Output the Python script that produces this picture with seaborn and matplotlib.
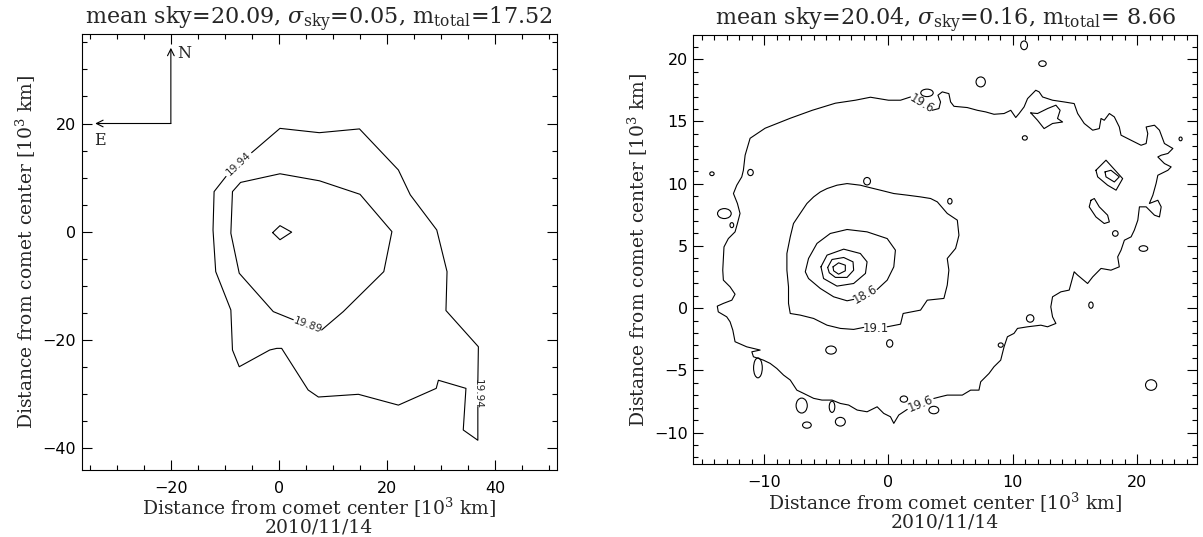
import numpy as np
import pandas as pd
import seaborn as sns
import matplotlib.pyplot as plt
from matplotlib.patches import Ellipse
from matplotlib.ticker import MultipleLocator

# --- contour paths, units of 10^3 km ---
# left panel (2010/11/14, faint): levels 19.94 and 19.89
left_1994_a = [(-5.06, 14.6), (0.19, 19.1), (7.47, 18.3), (14.9, 19.0), (22.1, 11.4), (24.3, 6.8),
               (29.2, 0.3), (31.1, -7.4), (30.9, -14.6), (36.9, -21.3), (36.8, -27.8)]
left_1994_b = [(36.8, -32.4), (36.8, -38.6), (34.1, -36.7), (34.6, -29.0), (29.5, -27.5), (29.1, -29.0),
               (22.1, -32.1), (14.7, -30.1), (7.3, -30.6), (5.4, -29.3), (0.5, -21.6), (-0.4, -21.6),
               (-1.7, -21.9), (-7.35, -25.0), (-8.6, -21.9), (-8.9, -14.5), (-11.7, -7.4), (-12.2, 0.3),
               (-12.0, 7.4), (-9.8, 10.2)]
left_1989 = [(7.9, -18.2), (11.9, -14.8), (19.4, -7.4), (20.9, 0.0), (15.0, 6.9), (7.5, 9.4), (0.19, 10.7),
             (-7.1, 9.1), (-8.6, 7.4), (-8.9, -0.3), (-7.35, -7.7), (-1.05, -14.8), (2.65, -16.3)]
left_core = [(-1.17, -0.19), (0.19, 1.1), (2.35, -0.1), (0.19, -1.5), (-1.17, -0.19)]

left_labels = ['19.94', '19.94', '19.89']
left_label_pos = [(-7.5, 12.5), (36.8, -30.1), (5.3, -17.3)]
left_label_rot = [43, -90, -20]

# right panel: levels 19.6, 19.1, 18.6 and three inner rings
right_196_a = [(3.52, 15.90), (4.06, 16.04), (4.19, 16.57), (3.98, 17.11), (4.33, 17.38), (4.86, 17.24),
               (5.00, 16.57), (5.27, 16.22), (6.34, 16.12), (7.15, 15.90), (7.82, 15.77), (8.49, 15.58),
               (9.30, 15.64), (9.84, 15.90), (10.24, 15.32), (10.51, 15.64), (10.91, 16.17), (11.19, 16.84),
               (11.85, 17.51), (12.12, 17.38), (12.40, 16.97), (13.20, 16.71), (14.14, 16.57), (14.94, 16.44),
               (15.22, 15.64), (15.75, 14.84), (16.43, 14.30), (16.96, 14.43), (17.10, 15.24), (17.36, 15.10),
               (17.77, 15.64), (18.17, 15.37), (18.57, 14.56), (18.71, 13.90), (19.52, 13.49), (20.32, 13.09),
               (20.73, 13.23), (20.86, 14.03), (20.73, 14.56), (21.40, 14.70), (21.80, 14.30), (22.20, 13.23),
               (22.88, 12.83), (22.48, 12.43), (21.94, 12.29), (21.67, 12.15), (22.20, 11.62), (22.74, 11.35),
               (22.48, 11.08), (21.67, 10.68), (21.53, 10.02), (21.27, 9.08), (20.99, 8.41), (21.67, 8.67),
               (21.94, 8.14), (21.80, 7.33), (21.40, 7.47), (20.73, 8.14), (20.19, 8.14), (20.06, 7.07),
               (19.78, 6.27), (19.52, 5.73), (18.98, 5.46), (18.71, 4.66), (18.44, 4.12), (18.57, 3.32),
               (17.90, 3.05), (17.10, 3.19), (16.43, 2.51), (16.02, 1.98), (15.22, 2.65), (14.94, 2.92),
               (14.54, 1.45), (13.87, 1.31), (13.20, 0.91), (13.06, 0.10), (13.20, -0.70), (13.47, -1.23),
               (12.80, -1.50), (12.26, -1.37), (11.19, -1.50), (10.38, -1.63), (10.10, -2.03), (9.57, -2.30),
               (9.30, -3.11), (9.03, -4.18), (8.49, -4.71), (8.09, -5.25), (7.42, -5.92), (7.28, -6.59),
               (6.61, -6.59), (5.94, -6.99), (4.73, -6.99), (4.19, -7.12), (3.65, -7.26)]
right_196_b = [(1.51, -8.14), (0.83, -8.59), (0.43, -9.26), (0.16, -8.73), (-0.38, -8.46), (-0.91, -7.93),
               (-1.72, -8.33), (-2.52, -8.19), (-3.20, -7.79), (-3.87, -7.66), (-4.54, -7.39), (-5.35, -7.39),
               (-6.02, -7.25), (-6.83, -6.85), (-7.37, -6.59), (-7.90, -5.78), (-8.44, -5.38), (-8.98, -4.85),
               (-9.52, -4.44), (-10.06, -4.18), (-10.86, -3.91), (-10.99, -3.51), (-10.32, -3.37), (-11.40, -3.11),
               (-12.34, -2.70), (-12.52, -1.77), (-12.74, -1.10), (-13.01, -0.70), (-13.69, -0.30), (-13.77, 0.16),
               (-13.28, 0.38), (-12.60, 0.64), (-12.34, 1.12), (-12.74, 1.71), (-13.28, 2.25), (-13.33, 3.05),
               (-13.28, 3.99), (-13.23, 4.92), (-12.88, 5.59), (-12.34, 6.13), (-12.15, 6.80), (-11.94, 7.61),
               (-12.15, 8.41), (-12.47, 9.21), (-12.20, 9.88), (-11.80, 10.55), (-11.67, 11.08), (-11.53, 12.29),
               (-11.13, 13.65), (-9.92, 14.46), (-7.90, 15.26), (-6.13, 15.90), (-4.27, 16.47), (-2.66, 16.71),
               (-1.45, 16.95), (0.0, 16.71), (0.97, 16.71), (1.77, 16.97)]
right_191 = [(-0.10, -1.50), (0.97, -1.29), (1.18, -0.43), (2.58, -0.16), (3.12, 0.64), (4.46, 0.78),
             (4.73, 1.85), (4.86, 3.05), (4.73, 3.99), (5.40, 4.80), (5.54, 5.33), (5.67, 5.86), (5.54, 7.07),
             (4.73, 7.61), (3.93, 8.54), (3.39, 8.81), (2.58, 8.94), (1.51, 9.08), (0.43, 9.21), (-0.65, 9.48),
             (-1.72, 9.74), (-2.26, 9.88), (-3.33, 10.01), (-4.14, 9.88), (-4.94, 9.61), (-5.48, 9.34),
             (-6.02, 8.94), (-6.56, 8.41), (-7.10, 7.61), (-7.64, 6.80), (-7.90, 5.73), (-8.17, 4.39),
             (-8.17, 3.05), (-8.04, 1.71), (-8.04, 0.38), (-7.90, -0.43), (-7.10, -0.56), (-6.02, -0.83),
             (-4.94, -1.37), (-3.87, -1.63), (-2.80, -1.71), (-1.99, -1.55)]
right_186 = [(-0.91, 1.50), (-0.10, 2.25), (0.43, 3.32), (0.56, 4.66), (-0.10, 5.59), (-1.72, 6.13),
             (-3.33, 6.32), (-4.68, 6.00), (-5.75, 5.20), (-6.43, 3.99), (-6.69, 2.92), (-6.43, 2.38),
             (-5.48, 1.58), (-4.41, 0.91), (-3.33, 0.59), (-2.80, 0.70)]
right_181 = [(-5.43, 3.32), (-4.94, 4.26), (-3.60, 4.74), (-2.26, 4.39), (-1.72, 3.72), (-1.85, 2.79),
             (-2.80, 1.98), (-4.14, 1.77), (-5.22, 2.38), (-5.43, 3.32)]
right_176 = [(-4.89, 3.27), (-4.54, 3.91), (-3.60, 4.07), (-2.85, 3.72), (-2.80, 3.05), (-3.33, 2.47),
             (-4.27, 2.47), (-4.76, 2.84), (-4.89, 3.27)]
right_171 = [(-4.46, 3.32), (-4.01, 3.64), (-3.47, 3.45), (-3.47, 3.00), (-4.01, 2.73), (-4.41, 3.00),
             (-4.46, 3.32)]
right_blob = [(11.45, 15.69), (11.99, 15.64), (12.80, 16.04), (13.47, 16.31), (13.81, 15.90), (13.60, 15.24),
              (14.01, 14.96), (13.20, 14.84), (12.52, 14.43), (11.99, 15.10), (11.45, 15.69)]
right_knot_out = [(16.69, 11.08), (17.50, 11.89), (18.84, 10.41), (18.31, 9.48), (17.63, 9.88),
                  (16.83, 10.55), (16.69, 11.08)]
right_knot_in = [(17.42, 10.95), (17.90, 11.08), (18.57, 10.55), (18.17, 10.14), (17.50, 10.55), (17.42, 10.95)]
right_streak = [(16.29, 8.67), (16.56, 8.81), (16.96, 8.14), (17.63, 7.47), (17.77, 6.93), (17.36, 6.80),
                (16.69, 7.33), (16.15, 8.14), (16.29, 8.67)]

# small closed islands: centre x, centre y, width, height
right_islands = [(10.91, 21.12, 0.55, 0.7), (12.39, 19.65, 0.6, 0.45), (7.42, 18.18, 0.75, 0.8),
                 (3.1, 17.3, 1.0, 0.6), (18.25, 6.0, 0.45, 0.45), (20.51, 4.79, 0.7, 0.45),
                 (21.13, -6.18, 0.9, 0.85), (11.40, -0.83, 0.6, 0.6), (9.03, -2.97, 0.4, 0.35),
                 (4.94, 8.59, 0.35, 0.45), (10.97, 13.68, 0.4, 0.35), (23.5, 13.6, 0.25, 0.3),
                 (16.29, 0.24, 0.35, 0.5), (3.65, -8.19, 0.8, 0.6), (-4.62, -3.37, 0.85, 0.65),
                 (0.1, -2.84, 0.5, 0.6), (-1.72, 10.2, 0.55, 0.6), (-6.98, -7.83, 0.9, 1.2),
                 (-6.56, -9.40, 0.7, 0.5), (-4.54, -7.93, 0.45, 0.9), (-3.87, -9.13, 0.8, 0.7),
                 (1.24, -7.31, 0.6, 0.5), (-10.5, -4.8, 0.7, 1.6), (-13.2, 7.6, 1.1, 0.8),
                 (-14.2, 10.8, 0.35, 0.3), (-11.1, 10.9, 0.45, 0.5), (-12.6, 6.67, 0.3, 0.4)]

right_labels = ['19.6', '19.6', '19.1', '18.6']
right_label_pos = [(2.65, 16.4), (2.58, -7.7), (-1.05, -1.62), (-1.85, 1.1)]
right_label_rot = [-31, 22, 0, 30]

titles = [r"mean sky=20.09, $\sigma_{\rm sky}$=0.05, m$_{\rm total}$=17.52",
          r"mean sky=20.04, $\sigma_{\rm sky}$=0.16, m$_{\rm total}$= 8.66"]
xlabel = "Distance from comet center [10$^3$ km]\n2010/11/14"
ylabel = "Distance from comet center [10$^3$ km]"


def to_frame(paths):
    rows = []
    for i, p in enumerate(paths):
        for x, y in p:
            rows.append((i, x, y))
    return pd.DataFrame(rows, columns=['seg', 'x', 'y'])


sns.set_theme(style="ticks")
plt.rcParams['font.family'] = ['DejaVu Serif']
plt.rcParams['mathtext.fontset'] = 'dejavuserif'
plt.rcParams['axes.linewidth'] = 0.8

fig = plt.figure(figsize=(12.03, 5.37), dpi=100)
ax1 = fig.add_axes([0.0679, 0.1248, 0.3949, 0.8113])
ax2 = fig.add_axes([0.5763, 0.1354, 0.4185, 0.7994])

# left
df_l = to_frame([left_1994_a, left_1994_b, left_1989, left_core])
sns.lineplot(data=df_l, x='x', y='y', units='seg', estimator=None, sort=False,
             color='black', lw=0.8, legend=False, ax=ax1)
for t, (x, y), r in zip(left_labels, left_label_pos, left_label_rot):
    ax1.text(x, y, t, rotation=r, ha='center', va='center', fontsize=7.5,
             family='DejaVu Sans', rotation_mode='anchor')
ax1.annotate('', xy=(-20, 34), xytext=(-20, 20),
             arrowprops=dict(arrowstyle='->', lw=0.8, color='black', shrinkA=0, shrinkB=0))
ax1.annotate('', xy=(-34, 20), xytext=(-20, 20),
             arrowprops=dict(arrowstyle='->', lw=0.8, color='black', shrinkA=0, shrinkB=0))
ax1.text(-18.9, 33.0, 'N', fontsize=11.5, ha='left', va='center')
ax1.text(-33.2, 16.8, 'E', fontsize=11.5, ha='center', va='center')
ax1.set_xlim(-36.5, 51.4)
ax1.set_ylim(-44.1, 36.5)
ax1.xaxis.set_major_locator(MultipleLocator(20))
ax1.xaxis.set_minor_locator(MultipleLocator(5))
ax1.yaxis.set_major_locator(MultipleLocator(20))
ax1.yaxis.set_minor_locator(MultipleLocator(5))

# right
df_r = to_frame([right_196_a, right_196_b, right_191, right_186, right_181, right_176, right_171,
                 right_blob, right_knot_out, right_knot_in, right_streak])
sns.lineplot(data=df_r, x='x', y='y', units='seg', estimator=None, sort=False,
             color='black', lw=0.8, legend=False, ax=ax2)
for cx, cy, w, h in right_islands:
    ax2.add_patch(Ellipse((cx, cy), w, h, fill=False, lw=0.8, color='black'))
for t, (x, y), r in zip(right_labels, right_label_pos, right_label_rot):
    ax2.text(x, y, t, rotation=r, ha='center', va='center', fontsize=8.5,
             family='DejaVu Sans', rotation_mode='anchor')
ax2.set_xlim(-15.7, 24.8)
ax2.set_ylim(-12.55, 21.95)
ax2.xaxis.set_major_locator(MultipleLocator(10))
ax2.xaxis.set_minor_locator(MultipleLocator(1))
ax2.yaxis.set_major_locator(MultipleLocator(5))
ax2.yaxis.set_minor_locator(MultipleLocator(1))

for ax, title in zip([ax1, ax2], titles):
    ax.set_title(title, fontsize=16, pad=5)
    ax.set_xlabel(xlabel, fontsize=13.5, linespacing=0.9, labelpad=0)
    ax.set_ylabel(ylabel, fontsize=13.5, labelpad=3)
    ax.tick_params(which='both', direction='in', top=True, right=True, width=0.8,
                   colors='black', labelfontfamily='DejaVu Sans', labelsize=11.5)
    ax.tick_params(which='major', length=7)
    ax.tick_params(which='minor', length=3.5)
    ax.tick_params(axis='x', which='both', pad=8)
    ax.tick_params(axis='y', which='both', pad=4)
    for s in ax.spines.values():
        s.set_color('black')

fig.savefig('out.png', dpi=100)
